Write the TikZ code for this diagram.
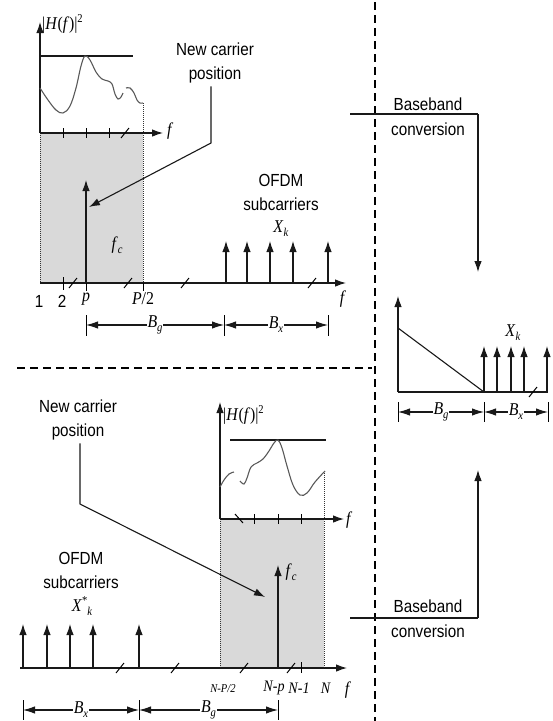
\documentclass[tikz,border=0pt]{standalone}
\usepackage{fontspec}
\setmainfont{Liberation Serif}[FakeStretch=0.88]
\setsansfont{Liberation Sans}[FakeStretch=0.87]
\usetikzlibrary{arrows.meta}
\newcommand{\sbs}[1]{\raisebox{-0.5ex}{\fontsize{12}{12}\selectfont #1}}
\newcommand{\sps}[1]{\raisebox{0.8ex}{\fontsize{12}{12}\selectfont #1}}
\newcommand{\Hlab}{|\textit{H}(\textit{f})|\sps{2}}
\begin{document}
\begin{tikzpicture}[x=1pt,y=-1pt,
 ln/.style={line width=1.1pt, draw=black!90},
 ar/.style={ln, -{Latex[length=11pt,width=7.5pt]}},
 dm/.style={ln, {Latex[length=12pt,width=7.5pt]}-{Latex[length=12pt,width=7.5pt]}},
 dtl/.style={line width=1pt, dash pattern=on 1pt off 1pt, draw=black!80},
 sep/.style={line width=1.3pt, dash pattern=on 8pt off 5pt},
 crv/.style={line width=1.1pt, draw=black!65},
 txt/.style={font=\sffamily\fontsize{17.5}{24}\selectfont, align=center, inner sep=0pt},
 lab/.style={font=\rmfamily\fontsize{18}{20}\selectfont, inner sep=0pt},
 slab/.style={font=\rmfamily\fontsize{12}{14}\selectfont\itshape, inner sep=0pt},
 dlab/.style={lab, fill=white, inner sep=1pt},
 gry/.style={fill=black!15, draw=none},
 tk/.style={line width=1pt, draw=black}
]
\useasboundingbox (0,0) rectangle (553,721);

% ================= TOP PANEL =================
\fill[gry] (40,133) rectangle (143,283);
\draw[dtl] (40,133) -- (40,283);
\draw[dtl] (143,103) -- (143,283);
\coordinate (tyb) at (40,133);
\coordinate (tyt) at (40,22);
\draw[ar] (tyb) -- (tyt);
\node[lab, anchor=west] (tH) at (42,24) {\Hlab};
\draw[ln] (40,56) -- (133,56);
\draw[crv] plot[smooth, tension=0.6] coordinates {(40,88) (48,100) (56,110) (63,113) (70,106) (76,88) (81,66) (85,56) (90,60) (96,72) (102,79) (108,81) (112,84) (115,94) (118,99) (121,97) (123,93)};
\draw[crv] plot[smooth, tension=0.6] coordinates {(126,88) (130,88) (134,93) (137,100) (140,103) (143,103)};
\coordinate (tfe) at (163,133);
\draw[ar] (tyb) -- (tfe);
\node[lab, anchor=west] (tf1) at (167,131) {\textit{f}};
\foreach \x in {63,86,109} \draw[tk] (\x,128) -- (\x,138);
\draw[tk] (121,138) -- (129,128);

\coordinate (to) at (40,283);
\coordinate (toe) at (346,283);
\draw[ar] (to) -- (toe);
\node[lab] (tf2) at (343,299) {\textit{f}};
\draw[tk] (63,277) -- (63,290);
\draw[tk] (86,283) -- (86,291);
\draw[tk] (143,283) -- (143,291);
\foreach \x in {73,128,185,312} \draw[tk] (\x-4,288) -- (\x+4,278);
\node[txt] (l1) at (39,301) {1};
\node[txt] (l2) at (62,301) {2};
\node[lab] (lp) at (86,299) {\textit{p}};
\node[lab] (lP) at (143,299) {\textit{P}/2};
\coordinate (pb) at (86,283);
\coordinate (pt) at (86,180);
\draw[ar] (pb) -- (pt);
\node[lab] (tfc) at (117,245) {\textit{f}\sbs{\textit{c}}};

\node[txt] (ncp1) at (215,63) {New carrier\\position};
\coordinate (k1) at (211,143);
\coordinate (e1) at (89,207);
\draw[ar] (ncp1.south -| k1) ++(0,3) -- (k1) -- (e1);

\node[txt] (ofdm1) at (281,192) {OFDM\\subcarriers};
\node[lab] (xk1) at (281,229) {\textit{X}\sbs{\textit{k}}};
\foreach \x [count=\i] in {226,247,270,293,328} {
  \coordinate (sb\i) at (\x,283);
  \coordinate (st\i) at (\x,241);
  \draw[ar] (sb\i) -- (st\i);
}
\foreach \x in {86,224,328} \draw[tk] (\x,315) -- (\x,336);
\coordinate (d1a) at (86,325);
\coordinate (d1b) at (224,325);
\coordinate (d1c) at (328,325);
\draw[dm] (d1a) -- node[dlab] {\textit{B}\sbs{\textit{g}}} (d1b);
\draw[dm] (d1b) -- node[dlab] {\textit{B}\sbs{\textit{x}}} (d1c);

% ================= SEPARATORS =================
\coordinate (hs1) at (17,368);
\coordinate (hs2) at (372,368);
\coordinate (vs1) at (375,2);
\coordinate (vs2) at (375,721);
\draw[sep] (hs1) -- (hs2);
\draw[sep] (vs1) -- (vs2);

% ================= RIGHT PANEL =================
\node[txt] (bb1) at (428,104) {Baseband};
\node[txt] (cv1) at (428,129) {conversion};
\coordinate (bl1) at (350,114);
\coordinate (bc1) at (478,114);
\coordinate (ba1) at (478,272);
\draw[ln] (bl1) -- (bc1);
\draw[ar] (bc1) -- (ba1);

\coordinate (ro) at (398,392);
\coordinate (ryt) at (398,296);
\draw[ar] (ro) -- (ryt);
\draw[ln] (398,328) -- (484,392);
\draw[ln] (ro) -- (548,392);
\foreach \x [count=\i] in {484,497,511,524,547} {
  \coordinate (rb\i) at (\x,392);
  \coordinate (rt\i) at (\x,346);
  \draw[ar] (rb\i) -- (rt\i);
}
\draw[tk] (529,397) -- (537,387);
\node[lab] (xk2) at (513,333) {\textit{X}\sbs{\textit{k}}};
\foreach \x in {398,484,548} \draw[tk] (\x,402) -- (\x,422);
\coordinate (d2a) at (398,412);
\coordinate (d2b) at (484,412);
\coordinate (d2c) at (548,412);
\draw[dm] (d2a) -- node[dlab] {\textit{B}\sbs{\textit{g}}} (d2b);
\draw[dm] (d2b) -- node[dlab] {\textit{B}\sbs{\textit{x}}} (d2c);

\node[txt] (bb2) at (428,606) {Baseband};
\node[txt] (cv2) at (428,631) {conversion};
\coordinate (bl2) at (350,618);
\coordinate (bc2) at (478,618);
\coordinate (ba2) at (478,470);
\draw[ln] (bl2) -- (bc2);
\draw[ar] (bc2) -- (ba2);

% ================= BOTTOM PANEL =================
\fill[gry] (220,519) rectangle (324,668);
\draw[dtl] (220,487) -- (220,668);
\draw[dtl] (324,471) -- (324,668);
\coordinate (byb) at (220,519);
\coordinate (byt) at (220,402);
\draw[ar] (byb) -- (byt);
\node[lab, anchor=west] (bH) at (223,415) {\Hlab};
\draw[ln] (230,440) -- (326,440);
\draw[crv] plot[smooth, tension=0.6] coordinates {(220,487) (224,480) (229,474) (234,472)};
\draw[crv] plot[smooth, tension=0.6] coordinates {(240,481) (244,484) (247,478) (251,467) (257,463) (263,459) (269,451) (274,443) (278,440) (282,448) (287,466) (293,485) (300,495) (307,493) (315,482) (325,471)};
\coordinate (bfe) at (344,519);
\draw[ar] (byb) -- (bfe);
\node[lab, anchor=west] (bf1) at (346,520) {\textit{f}};
\foreach \x in {254,278,301} \draw[tk] (\x,514) -- (\x,524);
\draw[tk] (235,514) -- (243,523);

\coordinate (bo) at (20,668);
\coordinate (boe) at (347,668);
\draw[ar] (bo) -- (boe);
\node[lab] (bf2) at (348,690) {\textit{f}};
\foreach \x [count=\i] in {23,47,70,93,139} {
  \coordinate (cb\i) at (\x,668);
  \coordinate (ct\i) at (\x,624);
  \draw[ar] (cb\i) -- (ct\i);
}
\foreach \x in {120,175,244,291} \draw[tk] (\x-4,673) -- (\x+4,663);
\coordinate (fcb) at (278,668);
\coordinate (fct) at (278,565);
\draw[ar] (fcb) -- (fct);
\node[lab] (bfc) at (291,572) {\textit{f}\sbs{\textit{c}}};
\draw[tk] (301,662) -- (301,673);
\node[slab] (lNP) at (223,689) {N-P/2};
\node[lab, font=\rmfamily\fontsize{16}{18}\selectfont] (lNp) at (274,688) {\textit{N-p}};
\node[lab, font=\rmfamily\fontsize{16}{18}\selectfont] (lN1) at (299,688) {\textit{N-1}};
\node[lab, font=\rmfamily\fontsize{16}{18}\selectfont] (lN) at (326,688) {\textit{N}};

\node[txt] (ofdm2) at (81,570) {OFDM\\subcarriers};
\node[lab] (xk3) at (82,606) {\textit{X}\sps{*}\sbs{\textit{k}}};

\node[txt] (ncp2) at (78,420) {New carrier\\position};
\coordinate (k2) at (80,504);
\coordinate (e2) at (265,597);
\draw[ar] (ncp2.south -| k2) ++(0,3) -- (k2) -- (e2);

\foreach \x in {23,139,278} \draw[tk] (\x,700) -- (\x,720);
\coordinate (d3a) at (23,710);
\coordinate (d3b) at (139,710);
\coordinate (d3c) at (278,710);
\draw[dm] (d3a) -- node[dlab] {\textit{B}\sbs{\textit{x}}} (d3b);
\draw[dm] (d3b) -- node[dlab] {\textit{B}\sbs{\textit{g}}} (d3c);
\end{tikzpicture}
\end{document}
